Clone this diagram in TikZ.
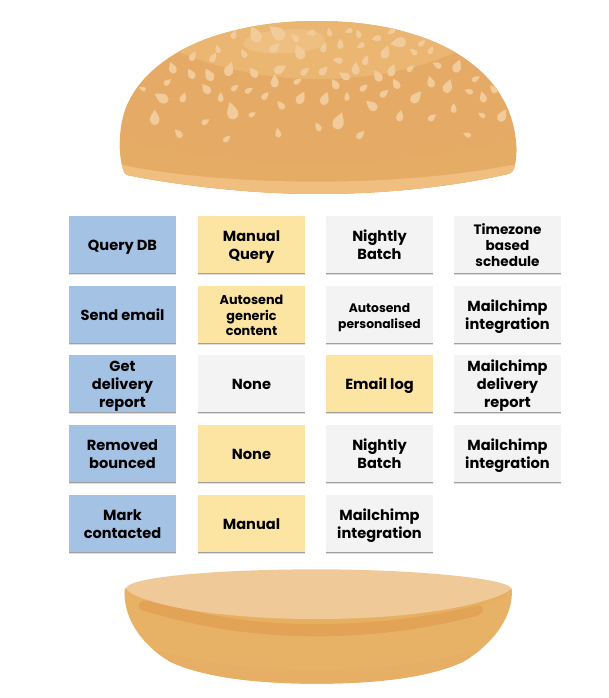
\documentclass[tikz,border=0pt]{standalone}
\usepackage{fontspec}
\setmainfont{Poppins}
\usetikzlibrary{shadows}
\definecolor{bluebox}{HTML}{A4C2E4}
\definecolor{yellowbox}{HTML}{FCE5A3}
\definecolor{greybox}{HTML}{F3F3F3}
\definecolor{bunbase}{HTML}{E6AA67}
\definecolor{bunlight}{HTML}{EAB671}
\definecolor{bunlighter}{HTML}{EEBF80}
\definecolor{bunlow}{HTML}{E5AC65}
\definecolor{lip}{HTML}{F0BE7F}
\definecolor{seedc}{HTML}{F1CB9A}
\definecolor{cutface}{HTML}{F0C999}
\definecolor{heelbody}{HTML}{E8B266}
\definecolor{heellow}{HTML}{E7AE66}
\definecolor{heelband}{HTML}{E3A356}
\definecolor{heelthin}{HTML}{E7AF60}
\newcommand{\seedmark}[4]{\fill[seedc,shift={(#1,#2)},rotate=#3,scale=#4*1.2]
  (0,-1) .. controls (0.35,-0.45) and (0.72,0.05) .. (0.62,0.45)
  .. controls (0.55,0.85) and (0.25,1) .. (0,1)
  .. controls (-0.25,1) and (-0.55,0.85) .. (-0.62,0.45)
  .. controls (-0.72,0.05) and (-0.35,-0.45) .. (0,-1) -- cycle;}
\newcommand{\lines}[1]{\raisebox{-2.5pt}[\height][\depth]{\begin{tabular}{@{}c@{}}#1\end{tabular}}}
\tikzset{
  card/.style={minimum width=107pt,minimum height=57pt,inner sep=0pt,
    text=black,font=\fontsize{14.6}{18}\selectfont\bfseries,
    general shadow={shadow xshift=0.3pt,shadow yshift=-2.4pt,opacity=.13,fill=black},
    general shadow={shadow xshift=0.1pt,shadow yshift=-1.3pt,opacity=.28,fill=black}},
  small/.style={font=\fontsize{12.8}{15.7}\selectfont\bfseries},
  tiny/.style={font=\fontsize{12.3}{16}\selectfont\bfseries},
  zone/.style={font=\fontsize{13.6}{16}\selectfont\bfseries},
  bluecard/.style={card,fill=bluebox},
  yellowcard/.style={card,fill=yellowbox},
  greycard/.style={card,fill=greybox},
}
\begin{document}
\begin{tikzpicture}[x=1pt,y=-1pt]
\useasboundingbox (0,0) rectangle (608,698);
% top bun, in zoom coordinates
\begin{scope}[shift={(110,10)},x=0.33333pt,y=-0.33333pt]
\def\crown{(40,480) .. controls (25,430) and (25,360) .. (45,300)
  .. controls (85,190) and (200,110) .. (340,70)
  .. controls (440,42) and (530,33) .. (620,33)
  .. controls (710,33) and (810,42) .. (900,70)
  .. controls (1040,110) and (1150,190) .. (1195,300)
  .. controls (1220,360) and (1225,430) .. (1212,475)
  .. controls (1208,490) and (1195,492) .. (1180,495)
  .. controls (1000,535) and (800,552) .. (620,552)
  .. controls (440,552) and (230,530) .. (60,497)
  .. controls (48,495) and (43,490) .. (40,480) -- cycle}
\begin{scope}
\clip \crown;
\fill[bunbase] (0,0) rectangle (1260,600);
\fill[bunlight] (205,125) .. controls (330,180) and (480,207) .. (620,207)
  .. controls (790,207) and (930,175) .. (1040,125) -- (1040,0) -- (205,0) -- cycle;
\fill[bunlighter] (400,100) .. controls (400,70) and (500,57) .. (560,57)
  .. controls (620,57) and (645,75) .. (645,95) .. controls (645,118) and (570,130) .. (500,130)
  .. controls (440,130) and (400,120) .. (400,100) -- cycle;
\fill[bunlow] (0,385) .. controls (200,430) and (420,462) .. (620,462)
  .. controls (820,462) and (1040,430) .. (1260,380) -- (1260,600) -- (0,600) -- cycle;
\fill[lip] (0,462) -- (38,465) .. controls (200,500) and (430,515) .. (620,515)
  .. controls (810,515) and (1030,500) .. (1205,465) -- (1260,462) -- (1260,600) -- (0,600) -- cycle;
\end{scope}
\foreach \sx/\sy/\sa/\sl in {372/73/-20/12,435/72/25/22,500/67/50/24,555/83/40/13,603/69/100/12,658/66/10/11,716/63/110/10,745/71/20/11,843/65/120/11,864/98/100/20,799/85/100/12,752/107/120/11,691/101/0/13,642/112/-20/13,568/125/25/20,495/113/-50/16,401/130/30/12,323/117/20/11,310/142/-30/13,249/138/-30/13,187/173/20/15,243/191/30/14,297/194/30/17,358/177/-20/18,430/187/40/15,511/177/-60/17,585/184/-50/13,641/182/-45/14,683/151/80/13,767/150/-20/13,737/175/0/16,827/126/-20/17,910/125/50/11,936/99/-50/11,963/120/-30/11,981/165/60/12,1042/168/-20/17,902/175/-50/11,846/180/-20/16,803/197/30/16,703/197/60/15,675/222/30/14,858/221/30/14,962/215/15/15,1014/228/-20/18,1098/206/-60/11,1076/244/70/11,1150/237/40/12,1119/261/15/14,1178/316/-30/17,1115/315/60/10,1031/294/0/12,967/322/-50/12,919/261/-40/18,870/317/-10/14,823/250/-50/13,762/233/-50/12,711/259/0/11,645/265/-20/17,573/263/-30/17,563/214/-60/11,494/213/0/16,512/285/40/13,466/257/-40/12,417/241/-60/11,375/233/-50/11,332/261/0/12,288/236/40/15,220/262/-20/13,173/216/-50/11,97/236/70/9,154/263/60/19,134/322/0/19,205/370/40/13,287/335/-60/11,351/386/-50/11,366/302/15/22,427/313/-60/10,504/368/10/12,624/350/30/12,687/332/-20/22,752/374/-45/13,784/286/50/17,1071/374/70/10}
  {\seedmark{\sx}{\sy}{\sa}{\sl}}
\end{scope}
% bottom bun, in zoom coordinates
\begin{scope}[shift={(110,560)},x=0.33333pt,y=-0.33333pt]
\def\heel{(44,85) .. controls (38,160) and (80,245) .. (180,305)
  .. controls (280,352) and (440,371) .. (620,371)
  .. controls (800,371) and (960,352) .. (1060,305)
  .. controls (1160,245) and (1212,160) .. (1205,85) -- cycle}
\begin{scope}
\clip \heel;
\fill[heelbody] (0,0) rectangle (1260,400);
\fill[heellow] (100,260) .. controls (260,310) and (440,330) .. (620,330)
  .. controls (800,330) and (980,310) .. (1150,255) -- (1260,400) -- (0,400) -- cycle;
\end{scope}
\fill[heelband] (100,122) .. controls (82,128) and (80,145) .. (100,152)
  .. controls (280,205) and (440,229) .. (620,229)
  .. controls (800,229) and (950,205) .. (1100,168)
  .. controls (1125,160) and (1125,140) .. (1105,135) -- cycle;
\fill[heelthin] (90,110) .. controls (280,170) and (440,192) .. (620,192)
  .. controls (800,192) and (980,170) .. (1190,115) -- (1190,100) -- (90,100) -- cycle;
\fill[cutface] (48,85) .. controls (55,50) and (330,28) .. (620,28)
  .. controls (910,28) and (1195,55) .. (1203,85)
  .. controls (1190,110) and (1000,177) .. (620,177)
  .. controls (250,177) and (60,115) .. (48,85) -- cycle;
\end{scope}
% cards
\node[bluecard] (a1) at (122.5,244.5) {\lines{Query DB}};
\node[bluecard] (a2) at (122.5,314.5) {\lines{Send email}};
\node[bluecard] (a3) at (122.5,383.5) {\lines{Get\\delivery\\report}};
\node[bluecard] (a4) at (122.5,453.5) {\lines{Removed\\bounced}};
\node[bluecard] (a5) at (122.5,523.5) {\lines{Mark\\contacted}};
\node[yellowcard] (b1) at (251.5,244.5) {\lines{Manual\\Query}};
\node[yellowcard,small] (b2) at (251.5,314.5) {\lines{Autosend\\generic\\content}};
\node[greycard] (b3) at (251.5,383.5) {\lines{None}};
\node[yellowcard] (b4) at (251.5,453.5) {\lines{None}};
\node[yellowcard] (b5) at (251.5,523.5) {\lines{Manual}};
\node[greycard] (c1) at (379.5,244.5) {\lines{Nightly\\Batch}};
\node[greycard,tiny] (c2) at (379.5,314.5) {\lines{Autosend\\personalised}};
\node[yellowcard] (c3) at (379.5,383.5) {\lines{Email log}};
\node[greycard] (c4) at (379.5,453.5) {\lines{Nightly\\Batch}};
\node[greycard] (c5) at (379.5,523.5) {\lines{Mailchimp\\integration}};
\node[greycard,zone] (d1) at (507.5,244.5) {\lines{Timezone\\based\\schedule}};
\node[greycard] (d2) at (507.5,314.5) {\lines{Mailchimp\\integration}};
\node[greycard] (d3) at (507.5,383.5) {\lines{Mailchimp\\delivery\\report}};
\node[greycard] (d4) at (507.5,453.5) {\lines{Mailchimp\\integration}};
\end{tikzpicture}
\end{document}
